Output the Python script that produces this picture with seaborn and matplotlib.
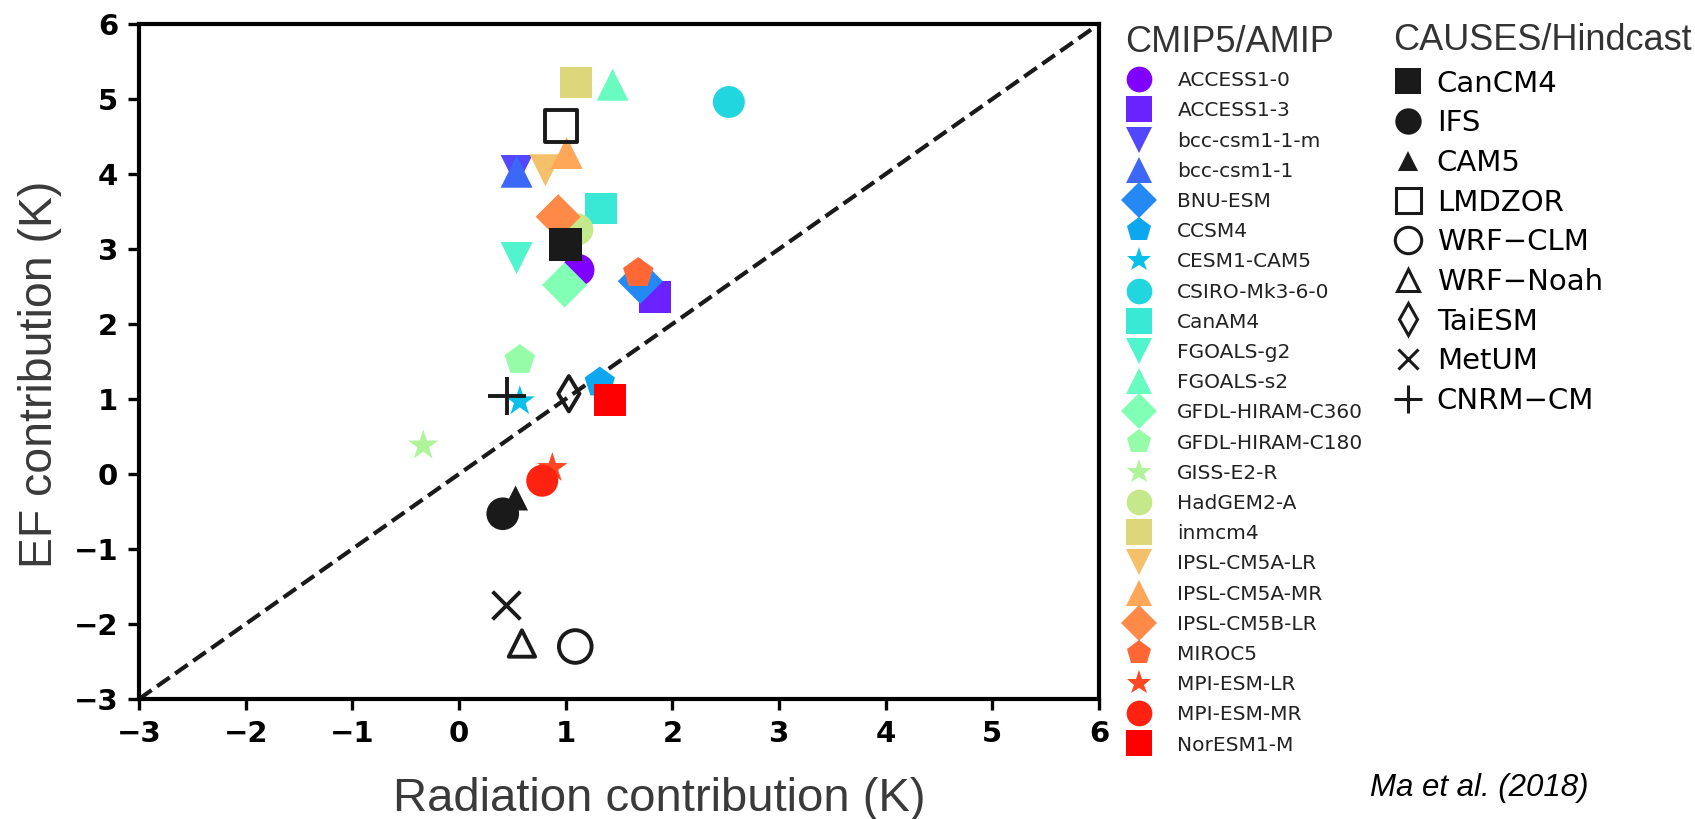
import matplotlib
matplotlib.use("Agg")
import matplotlib.pyplot as plt
import matplotlib.lines as mlines
import seaborn as sns
import numpy as np

# ---------------- data ----------------
cmip_models = ["ACCESS1-0", "ACCESS1-3", "bcc-csm1-1-m", "bcc-csm1-1", "BNU-ESM",
               "CCSM4", "CESM1-CAM5", "CSIRO-Mk3-6-0", "CanAM4", "FGOALS-g2",
               "FGOALS-s2", "GFDL-HIRAM-C360", "GFDL-HIRAM-C180", "GISS-E2-R",
               "HadGEM2-A", "inmcm4", "IPSL-CM5A-LR", "IPSL-CM5A-MR", "IPSL-CM5B-LR",
               "MIROC5", "MPI-ESM-LR", "MPI-ESM-MR", "NorESM1-M"]
cmip_rad = [1.12, 1.84, 0.54, 0.54, 1.70, 1.32, 0.57, 2.53, 1.33, 0.54, 1.44, 0.99,
            0.57, -0.335, 1.11, 1.10, 0.81, 1.01, 0.93, 1.68, 0.875, 0.78, 1.42]
cmip_ef = [2.72, 2.36, 4.04, 4.03, 2.57, 1.22, 0.97, 4.96, 3.54, 2.88, 5.19, 2.52,
           1.52, 0.38, 3.26, 5.22, 4.05, 4.28, 3.43, 2.68, 0.08, -0.09, 0.99]

causes_models = ["CanCM4", "IFS", "CAM5", "LMDZOR", "WRF\u2212CLM", "WRF\u2212Noah",
                 "TaiESM", "MetUM", "CNRM\u2212CM"]
causes_rad = [1.00, 0.41, 0.53, 0.96, 1.09, 0.59, 1.03, 0.44, 0.45]
causes_ef = [3.06, -0.53, -0.32, 4.64, -2.30, -2.26, 1.07, -1.75, 1.04]

ticks = [-3, -2, -1, 0, 1, 2, 3, 4, 5, 6]

# ---------------- styles ----------------
cmip_markers = ["o", "s", "v", "^", "D", "p", "*"] * 4
cmip_markers = cmip_markers[:len(cmip_models)]
cmap = matplotlib.colormaps["rainbow"]
cmip_colors = [cmap(i / (len(cmip_models) - 1)) for i in range(len(cmip_models))]

# marker, filled, size(pt) on plot, linewidth, legend size
causes_style = [("s", True, 23.5, 0, 19), ("o", True, 23.5, 0, 19),
                ("^", True, 18, 0, 15), ("s", False, 23, 2.8, 18),
                ("o", False, 23.5, 2.8, 19), ("^", False, 19, 2.8, 16),
                ("d", False, 18, 2.8, 16), ("x", False, 20, 2.8, 15),
                ("+", False, 27, 2.8, 20)]

sns.set_theme(style="white")
plt.rcParams["font.family"] = ["DejaVu Sans"]

W, H = 1695, 819
fig = plt.figure(figsize=(W / 100, H / 100), dpi=100)
ax = fig.add_axes([139 / W, 1 - 699 / H, (1099 - 139) / W, 675 / H])

# 1:1 line
ax.plot([-3, 6], [-3, 6], color="k", linestyle="--", linewidth=3, zorder=1)

# CMIP5 points
for i, name in enumerate(cmip_models):
    sns.scatterplot(x=[cmip_rad[i]], y=[cmip_ef[i]], marker=cmip_markers[i],
                    color=cmip_colors[i], s=23 ** 2, edgecolor="none",
                    linewidth=0, ax=ax, zorder=2, legend=False)

# CAUSES points
for i, name in enumerate(causes_models):
    m, filled, sz, lw, _ = causes_style[i]
    if filled:
        sns.scatterplot(x=[causes_rad[i]], y=[causes_ef[i]], marker=m, color="k",
                        s=sz ** 2, edgecolor="none", linewidth=0, ax=ax, zorder=3,
                        legend=False)
    elif m in ("x", "+"):
        sns.scatterplot(x=[causes_rad[i]], y=[causes_ef[i]], marker=m, color="k",
                        s=sz ** 2, linewidth=lw, ax=ax, zorder=3, legend=False)
    else:
        sns.scatterplot(x=[causes_rad[i]], y=[causes_ef[i]], marker=m,
                        facecolor="none", edgecolor="k", s=sz ** 2, linewidth=lw,
                        ax=ax, zorder=3, legend=False)

ax.set_xlim(-3, 6)
ax.set_ylim(-3, 6)
ax.set_xticks(ticks)
ax.set_yticks(ticks)
ax.set_xticklabels([f"{t:d}".replace("-", "\u2212") for t in ticks])
ax.set_yticklabels([f"{t:d}".replace("-", "\u2212") for t in ticks])
for lab in ax.get_xticklabels() + ax.get_yticklabels():
    lab.set_fontweight("bold")
    lab.set_fontsize(21)
    lab.set_color("black")
ax.tick_params(axis="both", direction="out", length=8, width=2.4, color="black",
               pad=7, bottom=True, left=True)
for sp in ax.spines.values():
    sp.set_color("black")
    sp.set_linewidth(3)

ax.set_xlabel("Radiation contribution (K)", fontsize=34, color="#3a3a3a",
              family=["Liberation Sans", "DejaVu Sans"])
ax.xaxis.label.set_va("baseline")
ax.xaxis.set_label_coords(0.542, -0.166)
ax.set_ylabel("EF contribution (K)", fontsize=33.4, color="#3a3a3a",
              family=["Liberation Sans", "DejaVu Sans"])
ax.yaxis.set_label_coords(-0.080, 0.481)

# Legends
h1 = [mlines.Line2D([], [], marker=cmip_markers[i], color=cmip_colors[i],
                    linestyle="none", markersize=18.5, markeredgewidth=0)
      for i in range(len(cmip_models))]
leg1 = fig.legend(h1, cmip_models, loc="upper left",
                  bbox_to_anchor=(1125 / W, 1 - 25 / H), frameon=False,
                  borderpad=0, borderaxespad=0, handlelength=1.4,
                  handletextpad=1.2, labelspacing=0.556, fontsize=14.5,
                  title="CMIP5/AMIP", alignment="left",
                  title_fontproperties={"family": "Liberation Sans", "size": 26})
leg1.get_title().set_color("#333333")
for t in leg1.get_texts():
    t.set_color("#222222")

h2 = []
for i in range(len(causes_models)):
    m, filled, sz, lw, lsz = causes_style[i]
    if filled:
        h2.append(mlines.Line2D([], [], marker=m, color="k", linestyle="none",
                                markersize=lsz, markeredgewidth=0))
    elif m in ("x", "+"):
        h2.append(mlines.Line2D([], [], marker=m, color="k", linestyle="none",
                                markersize=lsz, markeredgewidth=2.2))
    else:
        h2.append(mlines.Line2D([], [], marker=m, markerfacecolor="none",
                                markeredgecolor="k", linestyle="none",
                                markersize=lsz, markeredgewidth=2.2))
leg2 = fig.legend(h2, causes_models, loc="upper left",
                  bbox_to_anchor=(1393 / W, 1 - 23 / H), frameon=False,
                  borderpad=0, borderaxespad=0, handlelength=1.0,
                  handletextpad=0.5, labelspacing=0.4, fontsize=21,
                  title="CAUSES/Hindcast", alignment="left",
                  title_fontproperties={"family": "Liberation Sans", "size": 26})
leg2.get_title().set_color("#333333")
for t in leg2.get_texts():
    t.set_color("black")

fig.text(1370 / W, 1 - 788 / H, "Ma et al. (2018)", fontsize=22.5, style="italic",
         family=["Liberation Sans", "DejaVu Sans"], va="center", ha="left",
         color="black")

fig.savefig("out.png", dpi=100)
